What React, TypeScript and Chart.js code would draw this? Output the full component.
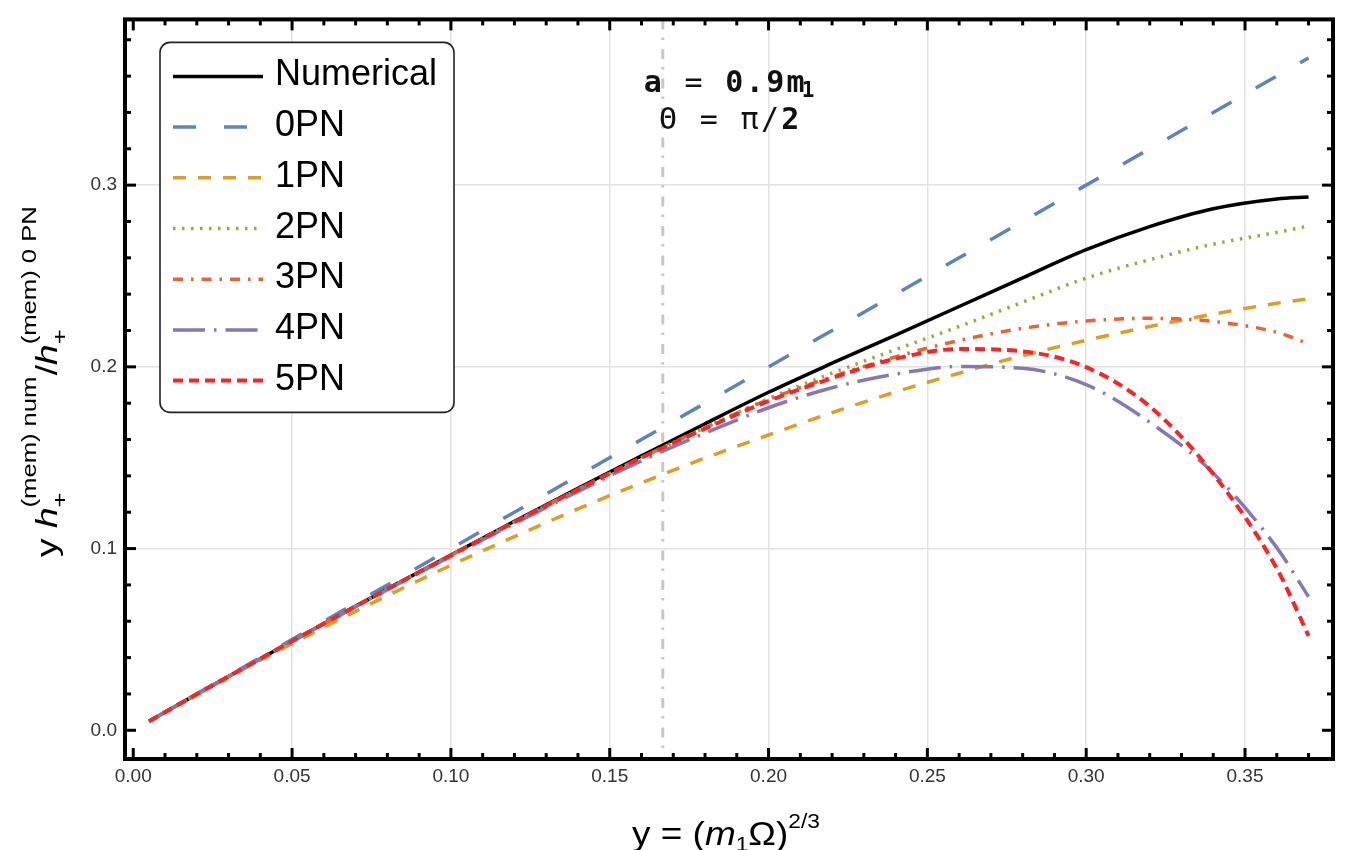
import React, { useEffect, useRef } from "react";
import { Chart, registerables } from "chart.js";

Chart.register(...registerables);

// ---------------- data ----------------
const xValues = [0.005, 0.02, 0.04, 0.06, 0.08, 0.1, 0.12, 0.14, 0.16, 0.18, 0.2, 0.22, 0.24, 0.26, 0.28, 0.3, 0.32, 0.34, 0.36, 0.37];

const numerical = [0.005, 0.0199, 0.0394, 0.0587, 0.0778, 0.0965, 0.115, 0.1332, 0.151, 0.1687, 0.186, 0.202, 0.2175, 0.2332, 0.249, 0.2645, 0.2772, 0.287, 0.2924, 0.2935];
const pn0 = [0.005, 0.02, 0.04, 0.06, 0.08, 0.1, 0.12, 0.14, 0.16, 0.18, 0.2, 0.22, 0.24, 0.26, 0.28, 0.3, 0.32, 0.34, 0.36, 0.37];
const pn1 = [0.005, 0.0196, 0.0385, 0.0567, 0.0741, 0.0908, 0.1066, 0.1218, 0.1362, 0.1498, 0.1625, 0.1748, 0.1862, 0.1965, 0.2062, 0.2146, 0.2222, 0.229, 0.235, 0.2375];
const pn2 = [0.005, 0.0199, 0.0394, 0.0587, 0.0777, 0.0963, 0.1146, 0.1325, 0.15, 0.1665, 0.1825, 0.1965, 0.2095, 0.2222, 0.2356, 0.2488, 0.259, 0.2675, 0.274, 0.2775];
const pn3 = [0.005, 0.0199, 0.0394, 0.0587, 0.0777, 0.0963, 0.1146, 0.1326, 0.15, 0.1665, 0.182, 0.1945, 0.2055, 0.2145, 0.2212, 0.2252, 0.2267, 0.225, 0.219, 0.2128];
const pn4 = [0.005, 0.0199, 0.0393, 0.0585, 0.0774, 0.0958, 0.1138, 0.1314, 0.1483, 0.1635, 0.1775, 0.1885, 0.196, 0.2002, 0.1992, 0.1902, 0.1695, 0.1415, 0.1005, 0.0735];
const pn5 = [0.005, 0.0199, 0.0394, 0.0587, 0.0777, 0.0963, 0.1146, 0.1325, 0.15, 0.166, 0.1812, 0.1938, 0.2045, 0.2098, 0.2085, 0.1998, 0.1782, 0.141, 0.089, 0.052];

const seriesLabels = ["Numerical", "0PN", "1PN", "2PN", "3PN", "4PN", "5PN"];
const seriesValues = [numerical, pn0, pn1, pn2, pn3, pn4, pn5];
const seriesColors = ["#000000", "#5E84BF", "#E19C24", "#8FB032", "#EB6235", "#8778B3", "#FF2222"];
const seriesDashes: number[][] = [[], [23, 28], [13, 12], [2.5, 6.5], [10, 8, 2.5, 8], [32, 9, 2.5, 9], [10, 6]];
const seriesWidths = [3.5, 3.5, 3.5, 3.5, 3.5, 3.5, 4];

const xTickValues = [0, 0.05, 0.1, 0.15, 0.2, 0.25, 0.3, 0.35];
const xTickLabels = ["0.00", "0.05", "0.10", "0.15", "0.20", "0.25", "0.30", "0.35"];
const yTickValues = [0, 0.1, 0.2, 0.3];
const yTickLabels = ["0.0", "0.1", "0.2", "0.3"];

const xRange = [-0.0026, 0.3777];
const yRange = [-0.0158, 0.3912];
const markerX = 0.1667; // vertical dot-dashed marker
const annotationLines = ["a = 0.9m", "Θ = π/2"];
const annotationPos = { x: 0.1876, y: 0.3513 };

const SANS = '"Liberation Sans", Arial, Helvetica, sans-serif';
const MONO = '"DejaVu Sans Mono", monospace';

// ---------------- helpers ----------------
function drawMonoLine(ctx: any, text: string, cx: number, base: number, adv: number, sub?: string) {
  const chars = Array.from(text);
  const subW = sub ? 10 : 0;
  const total = chars.length * adv + subW;
  let x = cx - total / 2;
  chars.forEach((ch) => {
    const bold = /[a-z0-9.]/i.test(ch) && ch !== "Θ";
    ctx.font = `${bold ? "bold " : ""}30px ${MONO}`;
    ctx.textAlign = "center";
    ctx.fillText(ch, x + adv / 2, base);
    x += adv;
  });
  if (sub) {
    ctx.font = `bold 21px ${MONO}`;
    ctx.textAlign = "left";
    ctx.fillText(sub, x - 4, base + 5);
  }
}

const decorPlugin = {
  id: "decor",
  beforeDatasetsDraw(chart: any) {
    const { ctx, chartArea: a, scales } = chart;
    const px = scales.x.getPixelForValue(markerX);
    ctx.save();
    ctx.strokeStyle = "#c8c8c8";
    ctx.lineWidth = 3;
    ctx.setLineDash([10, 8, 2.5, 9]);
    ctx.beginPath();
    ctx.moveTo(px, a.top);
    ctx.lineTo(px, a.bottom);
    ctx.stroke();
    ctx.restore();
  },
  afterDatasetsDraw(chart: any) {
    const { ctx, chartArea: a, scales } = chart;
    // annotation text
    ctx.save();
    ctx.fillStyle = "#111";
    ctx.textBaseline = "alphabetic";
    const ax = scales.x.getPixelForValue(annotationPos.x);
    const ay = scales.y.getPixelForValue(annotationPos.y);
    drawMonoLine(ctx, annotationLines[0], ax, ay, 20.4, "1");
    drawMonoLine(ctx, annotationLines[1], ax, ay + 37, 20.4);
    ctx.restore();

    // legend
    const lx = a.left + 35, ly = a.top + 23, lw = 294, lh = 370;
    ctx.save();
    ctx.beginPath();
    ctx.roundRect(lx, ly, lw, lh, 10);
    ctx.fillStyle = "#fff";
    ctx.fill();
    ctx.strokeStyle = "#222";
    ctx.lineWidth = 1.6;
    ctx.stroke();
    seriesLabels.forEach((lab, i) => {
      const yy = ly + 34 + i * 50.7;
      ctx.save();
      ctx.strokeStyle = seriesColors[i];
      ctx.lineWidth = seriesWidths[i];
      ctx.setLineDash(seriesDashes[i]);
      ctx.lineCap = "butt";
      ctx.beginPath();
      ctx.moveTo(lx + 13, yy);
      ctx.lineTo(lx + 103, yy);
      ctx.stroke();
      ctx.restore();
      ctx.fillStyle = "#000";
      ctx.font = `36px ${SANS}`;
      ctx.textAlign = "left";
      ctx.textBaseline = "alphabetic";
      ctx.fillText(lab, lx + 115, yy + 9);
    });
    ctx.restore();
  },
  afterDraw(chart: any) {
    const { ctx, chartArea: a, scales } = chart;
    ctx.save();
    // ticks (inward, all four sides)
    ctx.strokeStyle = "#000";
    ctx.lineWidth = 3;
    ctx.setLineDash([]);
    const tick = (x1: number, y1: number, x2: number, y2: number) => {
      ctx.beginPath();
      ctx.moveTo(x1, y1);
      ctx.lineTo(x2, y2);
      ctx.stroke();
    };
    for (let k = 0; k <= 37; k++) {
      const v = k / 100;
      const px = scales.x.getPixelForValue(v);
      if (px < a.left || px > a.right) continue;
      const len = k % 5 === 0 ? 11 : 6;
      tick(px, a.bottom, px, a.bottom - len);
      tick(px, a.top, px, a.top + len);
    }
    for (let k = 0; k <= 19; k++) {
      const v = k * 0.02;
      const py = scales.y.getPixelForValue(v);
      if (py < a.top || py > a.bottom) continue;
      const len = k % 5 === 0 ? 11 : 6;
      tick(a.left, py, a.left + len, py);
      tick(a.right, py, a.right - len, py);
    }
    // frame
    ctx.lineWidth = 4;
    ctx.strokeRect(a.left, a.top, a.right - a.left, a.bottom - a.top);

    // x-axis title: y = (m1 Ω)^(2/3)
    ctx.fillStyle = "#000";
    ctx.textAlign = "left";
    ctx.textBaseline = "alphabetic";
    const xParts = [
      { t: "y = (", f: `34px ${SANS}`, dy: 0 },
      { t: "m", f: `italic 34px ${SANS}`, dy: 0 },
      { t: "1", f: `21px ${SANS}`, dy: 6 },
      { t: "Ω)", f: `34px ${SANS}`, dy: 0 },
      { t: "2/3", f: `21px ${SANS}`, dy: -17 },
    ];
    let tw = 0;
    xParts.forEach((p) => { ctx.font = p.f; tw += ctx.measureText(p.t).width; });
    const targetW = 188;
    const xc = (a.left + a.right) / 2 - 3;
    ctx.save();
    ctx.translate(xc - targetW / 2, 845);
    ctx.scale(targetW / tw, 1);
    let cx = 0;
    xParts.forEach((p) => { ctx.font = p.f; ctx.fillText(p.t, cx, p.dy); cx += ctx.measureText(p.t).width; });
    ctx.restore();

    // y-axis title: y h+^(mem) num / h+^(mem) 0 PN
    const main = `29px ${SANS}`, ital = `italic 29px ${SANS}`, small = `20px ${SANS}`;
    type Seg = { main?: string; f?: string; sup?: string; sub?: string };
    const segs: Seg[] = [
      { main: "y ", f: main },
      { main: "h", f: ital },
      { sup: "(mem) num", sub: "+" },
      { main: "/", f: main },
      { main: "h", f: ital },
      { sup: "(mem) 0 PN", sub: "+" },
    ];
    const segW = (s: Seg) => {
      if (s.main) { ctx.font = s.f; return ctx.measureText(s.main).width; }
      ctx.font = small;
      return Math.max(ctx.measureText(s.sup!).width, ctx.measureText(s.sub!).width) + 1;
    };
    let ytw = 0;
    segs.forEach((s) => { ytw += segW(s); });
    const targetL = 352;
    const yCenter = 381;
    ctx.save();
    ctx.translate(57, yCenter + targetL / 2);
    ctx.rotate(-Math.PI / 2);
    ctx.scale(targetL / ytw, 1);
    let ux = 0;
    segs.forEach((s) => {
      const w = segW(s);
      if (s.main) { ctx.font = s.f; ctx.fillText(s.main, ux, 0); }
      else {
        ctx.font = small;
        ctx.fillText(s.sup!, ux, -21);
        ctx.fillText(s.sub!, ux, 10);
      }
      ux += w;
    });
    ctx.restore();
    ctx.restore();
  },
};

export default function App() {
  const canvasRef = useRef<HTMLCanvasElement>(null);

  useEffect(() => {
    const datasets = seriesLabels.map((label, i) => ({
      label,
      data: xValues.map((x, j) => ({ x, y: seriesValues[i][j] })),
      borderColor: seriesColors[i],
      backgroundColor: seriesColors[i],
      borderWidth: seriesWidths[i],
      borderDash: seriesDashes[i],
      borderCapStyle: "butt" as const,
      borderJoinStyle: "round" as const,
      pointRadius: 0,
      cubicInterpolationMode: "monotone" as const,
      fill: false,
      order: seriesLabels.length - 1 - i,
    }));

    const gridColor = (c: any) => (c.tick && Math.abs(c.tick.value) < 1e-9 ? "rgba(0,0,0,0)" : "#e2e2e2");

    const chart = new Chart(canvasRef.current!, {
      type: "line",
      data: { datasets },
      options: {
        responsive: false,
        devicePixelRatio: 1,
        animation: false,
        events: [],
        layout: { padding: { top: 13, right: 15, left: 0, bottom: 0 } },
        plugins: { legend: { display: false }, tooltip: { enabled: false } },
        scales: {
          x: {
            type: "linear",
            min: xRange[0],
            max: xRange[1],
            afterBuildTicks: (s: any) => { s.ticks = xTickValues.map((v) => ({ value: v })); },
            afterFit: (s: any) => { s.height = 91; },
            ticks: {
              callback: (_v: any, i: number) => xTickLabels[i],
              font: { size: 19, family: SANS },
              color: "#333333",
              padding: 6,
              maxRotation: 0,
              autoSkip: false,
            },
            grid: { color: gridColor, lineWidth: 1.5, drawTicks: false },
            border: { display: false },
          },
          y: {
            type: "linear",
            min: yRange[0],
            max: yRange[1],
            afterBuildTicks: (s: any) => { s.ticks = yTickValues.map((v) => ({ value: v })); },
            afterFit: (s: any) => { s.width = 125; },
            ticks: {
              callback: (_v: any, i: number) => yTickLabels[i],
              font: { size: 19, family: SANS },
              color: "#333333",
              padding: 8,
              autoSkip: false,
            },
            grid: { color: gridColor, lineWidth: 1.5, drawTicks: false },
            border: { display: false },
          },
        },
      },
      plugins: [decorPlugin],
    } as any);
    return () => chart.destroy();
  }, []);

  return (
    <div style={{ position: "fixed", left: 0, top: 0, width: 1348, height: 850, background: "#fff" }}>
      <canvas ref={canvasRef} width={1348} height={850} style={{ display: "block", width: 1348, height: 850 }} />
    </div>
  );
}
